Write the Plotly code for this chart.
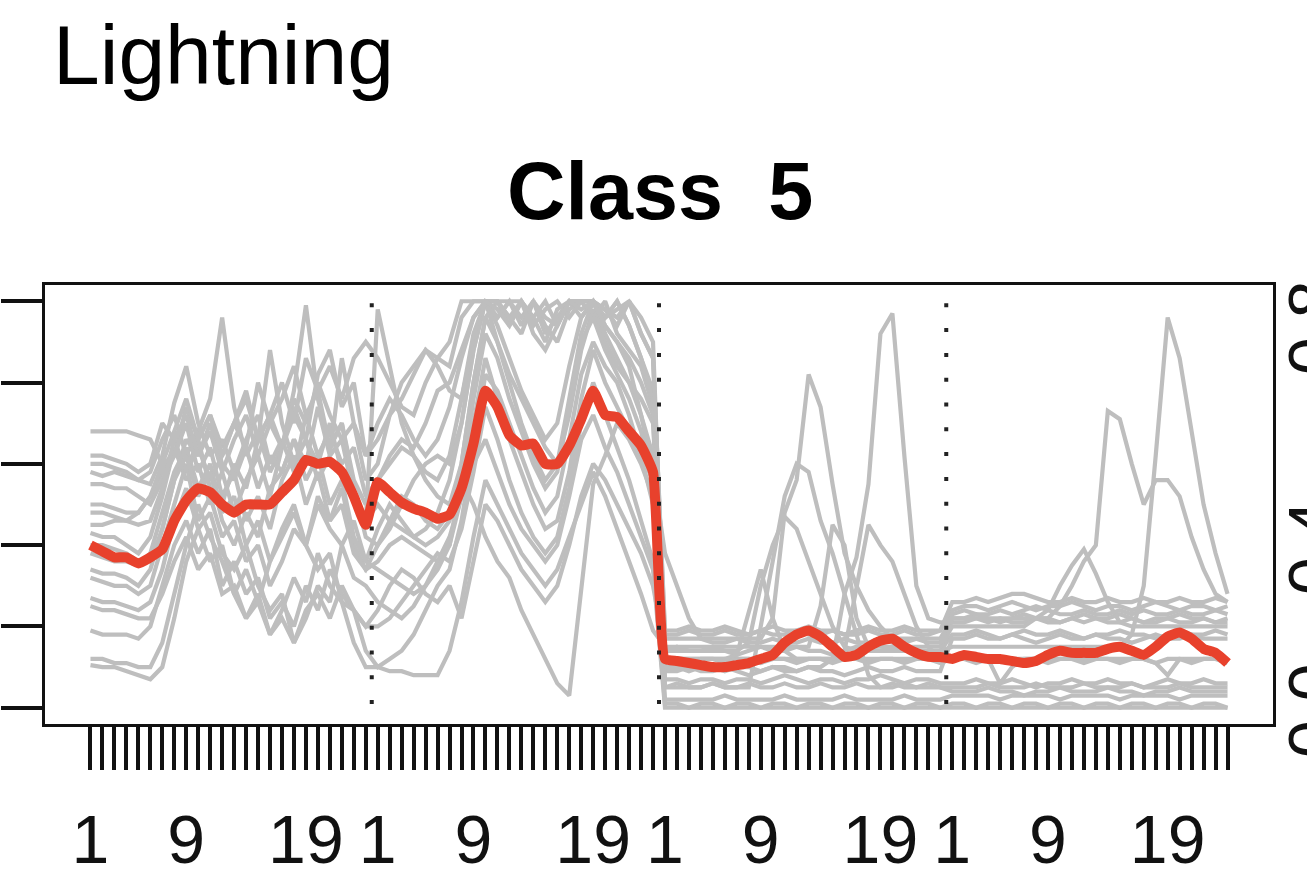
import plotly.graph_objects as go

# ---------------- data ----------------
x_index = list(range(1, 97))  # 4 blocks of 24 time points
tick_text_block = {1: "1", 9: "9", 19: "19"}
block_len = 24
block_breaks = [24.5, 48.5, 72.5]

mean_line = [
    0.40, 0.385, 0.37, 0.37, 0.355, 0.37, 0.39, 0.46, 0.51, 0.54, 0.53, 0.50, 0.48, 0.50, 0.50, 0.50, 0.53, 0.56, 0.61, 0.60, 0.605, 0.58, 0.52, 0.45,
    0.555, 0.53, 0.505, 0.49, 0.48, 0.465, 0.475, 0.54, 0.65, 0.78, 0.74, 0.67, 0.645, 0.65, 0.60, 0.60, 0.645, 0.71, 0.78, 0.72, 0.715, 0.68, 0.645, 0.58,
    0.12, 0.115, 0.11, 0.105, 0.10, 0.10, 0.105, 0.11, 0.12, 0.13, 0.16, 0.18, 0.19, 0.175, 0.15, 0.125, 0.13, 0.15, 0.165, 0.17, 0.15, 0.135, 0.125, 0.125,
    0.12, 0.13, 0.125, 0.12, 0.12, 0.115, 0.11, 0.115, 0.13, 0.14, 0.135, 0.135, 0.135, 0.145, 0.15, 0.14, 0.13, 0.15, 0.175, 0.185, 0.17, 0.145, 0.135, 0.11,
]

grey_01 = [
    .68,.68,.68,.68,.67,.66,.60,.62,.74,.66,.72,.64,.70,.78,.66,.72,.64,.76,.70,.80,.72,.66,.70,.62,
    .66,.72,.76,.82,.88,.86,.84,.96,1.0,1.0,.96,1.0,.94,1.0,.92,.96,1.0,.96,1.0,.98,.94,1.0,.92,.86,
    .19,.19,.20,.19,.19,.20,.19,.18,.19,.20,.19,.19,.20,.19,.19,.18,.19,.20,.19,.19,.20,.19,.19,.19,
    .24,.25,.25,.24,.25,.26,.25,.24,.25,.25,.26,.25,.24,.25,.25,.24,.25,.26,.25,.24,.25,.25,.24,.25,
]
grey_02 = [
    .60,.60,.59,.58,.56,.55,.62,.75,.84,.70,.62,.66,.58,.66,.72,.60,.66,.58,.72,.62,.68,.60,.64,.52,
    .56,.62,.66,.64,.70,.78,.80,.88,.96,1.0,.90,.82,.76,.70,.64,.60,.72,.88,.98,.90,.84,.80,.76,.70,
    .17,.17,.17,.17,.17,.17,.17,.17,.17,.22,.48,.56,.82,.74,.55,.38,.30,.24,.20,.17,.17,.17,.17,.17,
    .22,.22,.23,.22,.21,.22,.23,.22,.22,.21,.22,.23,.22,.22,.23,.22,.21,.22,.22,.23,.22,.22,.21,.22,
]
grey_03 = [
    .58,.57,.58,.57,.56,.58,.66,.72,.62,.68,.76,.96,.74,.62,.68,.58,.64,.74,.66,.60,.70,.58,.52,.46,
    .50,.46,.44,.42,.44,.48,.56,.70,.88,1.0,1.0,.94,1.0,.96,.90,.98,1.0,1.0,.96,1.0,.92,.88,.84,.74,
    .14,.15,.14,.14,.15,.14,.13,.14,.15,.14,.14,.15,.14,.14,.13,.14,.15,.14,.14,.15,.14,.14,.13,.14,
    .18,.18,.19,.18,.17,.18,.19,.18,.18,.19,.18,.17,.18,.18,.19,.18,.18,.17,.18,.19,.18,.18,.19,.18,
]
grey_04 = [
    .50,.50,.49,.48,.48,.52,.58,.64,.58,.66,.54,.50,.60,.54,.66,.88,.70,.60,.66,.56,.62,.66,.52,.46,
    .98,.84,.70,.62,.56,.52,.50,.60,.80,.96,1.0,1.0,.96,1.0,.94,.90,.98,1.0,1.0,.96,1.0,.94,.86,.78,
    .10,.10,.09,.10,.10,.09,.10,.10,.09,.10,.10,.09,.10,.10,.12,.28,.37,.55,.92,.97,.62,.30,.22,.21,
    .21,.21,.22,.21,.22,.21,.21,.22,.21,.21,.22,.21,.22,.21,.21,.22,.21,.21,.22,.21,.21,.22,.21,.21,
]
grey_05 = [
    .43,.42,.42,.40,.38,.42,.52,.64,.56,.60,.50,.58,.48,.56,.62,.52,.64,.78,.99,.76,.64,.70,.54,.42,
    .40,.44,.50,.56,.60,.62,.60,.70,.88,1.0,.94,.86,.78,.72,.66,.70,.84,.96,1.0,.94,.90,.86,.80,.72,
    .07,.07,.06,.07,.07,.06,.07,.07,.06,.07,.08,.07,.06,.07,.07,.06,.07,.07,.08,.07,.06,.07,.07,.06,
    .06,.06,.07,.06,.06,.07,.06,.05,.06,.06,.07,.06,.06,.07,.06,.06,.05,.06,.07,.06,.06,.07,.06,.06,
]
grey_06 = [
    .34,.33,.33,.32,.30,.34,.44,.56,.66,.62,.70,.60,.56,.64,.54,.62,.58,.66,.60,.74,.62,.86,.70,.56,
    .60,.72,.80,.84,.88,.84,.78,.76,.90,1.0,1.0,.96,1.0,.94,.98,1.0,.96,1.0,1.0,.96,1.0,.94,.86,.76,
    .05,.05,.05,.05,.06,.05,.05,.05,.20,.36,.52,.60,.58,.46,.38,.28,.18,.08,.05,.05,.06,.05,.05,.05,
    .04,.04,.04,.05,.04,.04,.03,.04,.04,.05,.04,.04,.04,.05,.04,.04,.03,.04,.04,.05,.04,.04,.04,.04,
]
grey_07 = [
    .32,.31,.30,.30,.28,.30,.40,.50,.60,.46,.52,.42,.46,.36,.40,.30,.36,.44,.40,.52,.46,.54,.40,.34,
    .36,.40,.42,.40,.38,.36,.40,.52,.70,.86,.76,.66,.58,.50,.44,.46,.58,.76,.88,.80,.74,.68,.62,.56,
    .02,.02,.02,.02,.02,.03,.02,.02,.02,.02,.03,.02,.02,.02,.02,.03,.02,.02,.02,.02,.03,.02,.02,.02,
    .03,.03,.03,.03,.02,.03,.03,.03,.03,.02,.03,.03,.03,.03,.02,.03,.03,.03,.03,.02,.03,.03,.03,.03,
]
grey_08 = [
    .27,.26,.26,.25,.24,.26,.34,.46,.54,.44,.48,.38,.34,.40,.30,.24,.28,.16,.22,.30,.26,.40,.32,.30,
    .26,.24,.22,.25,.30,.36,.42,.52,.60,.66,.58,.50,.44,.40,.36,.40,.52,.66,.72,.64,.58,.50,.42,.34,
    .00,.00,.00,.00,.00,.00,.00,.00,.00,.00,.00,.00,.00,.00,.00,.00,.00,.00,.00,.00,.00,.00,.00,.00,
    .00,.00,.00,.00,.00,.00,.00,.00,.00,.00,.00,.00,.00,.00,.00,.00,.00,.00,.00,.00,.00,.00,.00,.00,
]
grey_09 = [
    .19,.18,.18,.18,.17,.20,.30,.40,.46,.38,.44,.30,.36,.28,.32,.22,.26,.20,.30,.24,.34,.28,.24,.20,
    .24,.30,.34,.32,.28,.26,.30,.22,.36,.50,.46,.40,.34,.30,.26,.30,.40,.52,.60,.56,.50,.44,.38,.30,
    .14,.14,.14,.14,.14,.14,.14,.16,.30,.40,.47,.44,.36,.28,.20,.15,.14,.14,.14,.14,.14,.14,.14,.14,
    .15,.15,.15,.15,.15,.15,.15,.15,.15,.15,.15,.15,.15,.15,.15,.18,.30,.62,.96,.86,.68,.50,.38,.28,
]
grey_10 = [
    .12,.12,.11,.11,.10,.10,.16,.28,.40,.50,.42,.36,.28,.34,.26,.36,.44,.50,.40,.34,.38,.26,.24,.14,
    .10,.12,.14,.18,.24,.30,.34,.46,.64,.82,.78,.70,.62,.54,.48,.52,.66,.82,.90,.84,.80,.72,.62,.50,
    .12,.12,.12,.12,.12,.12,.13,.24,.34,.22,.14,.12,.12,.12,.12,.12,.12,.12,.12,.12,.12,.12,.12,.12,
    .22,.22,.22,.22,.22,.22,.22,.22,.22,.25,.30,.36,.40,.73,.71,.60,.50,.56,.56,.52,.42,.34,.28,.26,
]
grey_11 = [
    .105,.10,.10,.09,.08,.07,.10,.22,.36,.44,.36,.40,.28,.22,.28,.18,.24,.32,.26,.38,.30,.26,.16,.10,
    .10,.09,.09,.08,.08,.08,.14,.26,.42,.56,.50,.44,.38,.34,.30,.34,.42,.50,.58,.52,.44,.36,.28,.19,
    .15,.15,.15,.15,.15,.15,.15,.15,.15,.15,.15,.15,.15,.25,.45,.40,.22,.15,.15,.15,.15,.15,.15,.15,
    .20,.20,.20,.20,.20,.20,.20,.22,.24,.30,.35,.39,.33,.26,.21,.20,.20,.20,.20,.20,.20,.20,.20,.20,
]
grey_12 = [
    .62,.62,.61,.60,.58,.60,.70,.66,.58,.64,.56,.62,.70,.76,.66,.72,.80,.70,.86,.78,.84,.76,.86,.90,
    .86,.80,.74,.72,.80,.86,.90,1.0,1.0,1.0,.96,1.0,1.0,.96,1.0,.94,1.0,1.0,1.0,.96,.98,1.0,.96,.90,
    .12,.12,.12,.12,.12,.12,.12,.12,.12,.12,.12,.12,.12,.12,.12,.14,.30,.45,.40,.36,.28,.20,.15,.12,
    .12,.12,.12,.12,.12,.12,.12,.12,.12,.12,.12,.12,.12,.12,.12,.12,.12,.11,.08,.12,.12,.12,.12,.12,
]
grey_13 = [
    .55,.55,.54,.54,.52,.50,.56,.62,.70,.58,.64,.52,.58,.46,.52,.44,.56,.62,.50,.58,.46,.50,.38,.34,
    .40,.46,.52,.50,.46,.44,.48,.56,.50,.42,.36,.32,.24,.18,.12,.06,.03,.30,.55,.62,.70,.66,.60,.52,
    .09,.09,.10,.09,.09,.10,.09,.08,.09,.10,.09,.09,.10,.09,.09,.08,.09,.10,.09,.09,.10,.09,.09,.09,
    .17,.17,.18,.17,.17,.18,.17,.16,.17,.18,.17,.17,.18,.17,.17,.16,.17,.18,.17,.17,.18,.17,.17,.17,
]
grey_14 = [
    .45,.45,.46,.46,.48,.52,.60,.68,.76,.66,.72,.62,.70,.64,.80,.70,.64,.72,.66,.82,.88,.74,.80,.62,
    .70,.76,.72,.66,.62,.66,.74,.86,.96,1.0,1.0,.96,.92,1.0,.96,.94,1.0,1.0,1.0,.98,.96,1.0,.92,.86,
    .18,.18,.19,.18,.18,.19,.18,.18,.19,.18,.18,.19,.18,.18,.19,.18,.18,.19,.18,.18,.19,.18,.18,.19,
    .26,.26,.27,.26,.27,.28,.28,.27,.26,.26,.27,.26,.26,.27,.26,.26,.27,.26,.26,.27,.26,.26,.27,.26,
]
grey_15 = [
    .38,.37,.36,.36,.35,.38,.48,.58,.64,.54,.60,.48,.52,.40,.46,.36,.42,.48,.40,.50,.44,.40,.46,.36,
    .44,.50,.46,.42,.40,.42,.46,.60,.80,.96,.90,.80,.70,.62,.56,.60,.76,.92,1.0,.92,.86,.80,.72,.62,
    .05,.06,.05,.05,.06,.05,.05,.06,.05,.05,.06,.05,.05,.06,.05,.05,.06,.05,.05,.06,.05,.05,.06,.05,
    .05,.05,.05,.06,.05,.05,.05,.06,.05,.05,.05,.06,.05,.05,.05,.06,.05,.05,.05,.06,.05,.05,.05,.05,
]
grey_16 = [
    .25,.24,.24,.23,.22,.22,.28,.36,.42,.34,.38,.28,.30,.22,.26,.18,.22,.16,.24,.28,.22,.30,.24,.20,
    .20,.22,.26,.30,.34,.38,.36,.44,.58,.74,.66,.56,.48,.42,.38,.42,.54,.70,.80,.72,.64,.56,.46,.36,
    .01,.01,.00,.01,.01,.00,.01,.01,.00,.01,.01,.00,.01,.01,.00,.01,.01,.00,.01,.01,.00,.01,.01,.00,
    .01,.01,.00,.01,.01,.00,.01,.01,.00,.01,.01,.00,.01,.01,.00,.01,.01,.00,.01,.01,.00,.01,.01,.00,
]
grey_17 = [
    .48,.48,.47,.46,.45,.46,.54,.66,.72,.62,.68,.58,.66,.72,.62,.70,.76,.84,.72,.78,.64,.70,.56,.50,
    .56,.60,.64,.62,.58,.56,.62,.76,.92,1.0,.98,.94,1.0,.92,.88,.94,1.0,.98,1.0,.94,.90,.84,.72,.58,
    .38,.30,.22,.17,.16,.16,.17,.16,.16,.17,.16,.16,.17,.16,.16,.17,.16,.16,.17,.16,.16,.17,.16,.16,
    .23,.24,.23,.23,.24,.23,.24,.25,.24,.23,.23,.24,.23,.23,.24,.23,.24,.23,.23,.24,.23,.23,.24,.23,
]
grey_18 = [
    .40,.40,.39,.38,.36,.36,.44,.56,.62,.52,.58,.46,.40,.48,.42,.54,.58,.66,.56,.62,.50,.56,.42,.36,
    .34,.32,.30,.28,.30,.34,.40,.56,.76,.92,.86,.76,.68,.60,.54,.58,.74,.90,.96,.88,.82,.76,.68,.56,
    .12,.12,.11,.12,.12,.11,.12,.12,.11,.12,.12,.11,.12,.12,.11,.12,.12,.11,.12,.12,.11,.12,.12,.11,
    .12,.12,.11,.12,.06,.10,.12,.12,.11,.12,.12,.11,.12,.12,.11,.12,.12,.11,.12,.12,.11,.12,.12,.11,
]

grey_series = [grey_01, grey_02, grey_03, grey_04, grey_05, grey_06, grey_07, grey_08, grey_09,
               grey_10, grey_11, grey_12, grey_13, grey_14, grey_15, grey_16, grey_17, grey_18]

y_ticks = [0.0, 0.2, 0.4, 0.6, 0.8, 1.0]
right_labels = ["0.8", "0.4", "0.0"]
right_label_pos = [0.902, 0.401, 0.030]

# ---------------- figure ----------------
FONT = "Liberation Sans, Arial, Helvetica, sans-serif"
fig = go.Figure()

for s in grey_series:
    fig.add_trace(go.Scatter(x=x_index, y=s, mode="lines",
                             line=dict(color="#BEBEBE", width=4.2),
                             hoverinfo="skip", showlegend=False))

fig.add_trace(go.Scatter(x=x_index, y=mean_line, mode="lines",
                         line=dict(color="#E8412C", width=10, shape="spline", smoothing=0.4),
                         showlegend=False))

for b in block_breaks:
    fig.add_shape(type="line", x0=b, x1=b, y0=0.995, y1=-0.04, xref="x", yref="y",
                  line=dict(color="#222222", width=4, dash="4px,20.8px"), layer="above")

tick_text = [tick_text_block.get((i - 1) % block_len + 1, "") for i in x_index]

fig.update_xaxes(range=[-2.8, 99.8], tickmode="array", tickvals=x_index, ticktext=tick_text,
                 ticks="outside", ticklen=43, tickwidth=4, tickcolor="#111111",
                 ticklabelstandoff=11,
                 showline=True, linecolor="#111111", linewidth=3, mirror=True,
                 showgrid=False, zeroline=False,
                 tickfont=dict(family=FONT, size=68, color="#111111"), tickangle=0)
fig.update_yaxes(range=[-0.04, 1.04], tickmode="array", tickvals=y_ticks,
                 ticks="outside", ticklen=41, tickwidth=4, tickcolor="#111111",
                 showticklabels=False,
                 showline=True, linecolor="#111111", linewidth=3, mirror=True,
                 showgrid=False, zeroline=False)

annotations = [
    dict(text="Lightning", x=0.0049, y=1.6355, xref="paper", yref="paper",
         xanchor="left", yanchor="top", showarrow=False,
         font=dict(family=FONT, size=84, color="#000000")),
    dict(text="Class\u00a0\u00a05", x=0.5008, y=1.322, xref="paper", yref="paper",
         xanchor="center", yanchor="top", showarrow=False,
         font=dict(family=FONT, size=81, color="#000000", weight="bold")),
]
for t, p in zip(right_labels, right_label_pos):
    annotations.append(dict(text=t, x=1.0318, y=p, xref="paper", yref="paper",
                            xanchor="center", yanchor="middle", showarrow=False,
                            textangle=-90,
                            font=dict(family=FONT, size=68, color="#111111")))

fig.update_layout(width=1307, height=878,
                  margin=dict(l=45, r=34, t=285, b=154, autoexpand=False),
                  paper_bgcolor="white", plot_bgcolor="white",
                  annotations=annotations, showlegend=False)

# remove the page's default 8px body margin so the figure fills the window exactly
fig.write_html("out.html", config={"displayModeBar": False},
               post_script="document.body.style.margin='0px';")
